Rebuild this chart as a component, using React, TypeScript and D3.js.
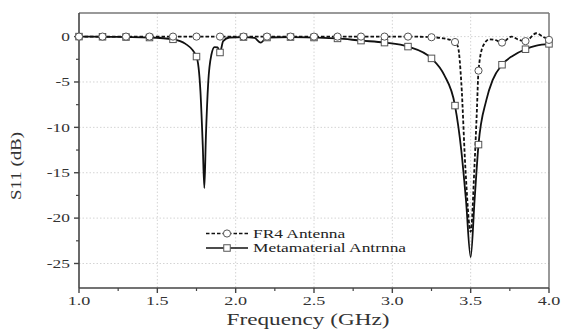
import React from "react";
import * as d3 from "d3";

const X_TICKS = [1.0, 1.5, 2.0, 2.5, 3.0, 3.5, 4.0];
const X_MINOR = [1.25, 1.75, 2.25, 2.75, 3.25, 3.75];
const Y_TICKS = [0, -5, -10, -15, -20, -25];
const Y_MINOR = [-2.5, -7.5, -12.5, -17.5, -22.5];
const MARKER_FREQS = [1.0, 1.15, 1.3, 1.45, 1.6, 1.75, 1.9, 2.05, 2.2, 2.35, 2.5, 2.65, 2.8, 2.95, 3.1, 3.25, 3.4, 3.55, 3.7, 3.85, 4.0];

const META: [number, number][] = [
  [1.0, 0], [1.15, -0.02], [1.3, -0.05], [1.45, -0.1], [1.6, -0.3], [1.68, -0.8], [1.75, -2.2],
  [1.775, -6], [1.79, -12], [1.8, -16.7], [1.81, -11], [1.825, -5], [1.845, -2], [1.865, -1.15],
  [1.885, -1.2], [1.9, -1.75], [1.92, -0.5], [1.96, -0.1], [2.05, -0.05], [2.12, -0.15], [2.16, -0.66],
  [2.2, -0.1], [2.35, -0.05], [2.5, -0.1], [2.65, -0.2], [2.8, -0.44], [2.95, -0.66], [3.1, -1.1],
  [3.25, -2.4], [3.33, -4.2], [3.4, -7.6], [3.44, -12.5], [3.47, -18], [3.5, -24.3], [3.525, -18],
  [3.55, -11.9], [3.6, -7], [3.64, -4.8], [3.7, -3.1], [3.77, -2.1], [3.85, -1.39], [3.92, -1.0], [4.0, -0.8],
];

const FR4: [number, number][] = [
  [1.0, 0], [1.15, 0], [1.3, 0], [1.45, 0], [1.6, 0], [1.75, 0], [1.9, 0], [2.05, 0], [2.2, 0], [2.35, 0],
  [2.5, 0], [2.65, 0], [2.8, 0], [2.95, 0], [3.1, 0], [3.25, -0.07], [3.33, -0.2], [3.4, -0.6], [3.42, -1.2],
  [3.44, -5], [3.467, -14.7], [3.5, -21.5], [3.525, -14], [3.54, -8], [3.55, -3.75], [3.58, -1.0],
  [3.62, -0.3], [3.66, -0.4], [3.7, -0.66], [3.76, 0], [3.8, -0.3], [3.85, -0.5], [3.92, 0.37], [3.96, 0], [4.0, -0.36],
];

const W = 563, H = 332;
const L = 79, R = 549, T = 13, B = 288;
const SX = 1.45;
const FONT = "'Liberation Serif', 'Times New Roman', serif";

export default function App() {
  const x = d3.scaleLinear().domain([1, 4]).range([L, R]);
  const y = d3.scaleLinear().domain([-27.7, 2.6]).range([B, T]);
  const line = d3.line<[number, number]>().x(d => x(d[0])).y(d => y(d[1])).curve(d3.curveMonotoneX);
  const isMarker = (f: number) => MARKER_FREQS.some(m => Math.abs(m - f) < 1e-6);
  const metaMarks = META.filter(d => isMarker(d[0]));
  const fr4Marks = FR4.filter(d => isMarker(d[0]));
  const axisCol = "#444";
  const mk = "#555";
  const sq = 6.5;

  return (
    <svg width={W} height={H} style={{ position: "absolute", left: 0, top: 0, background: "#fff" }} fontFamily={FONT}>
      <rect x={0} y={0} width={W} height={H} fill="#fff" />
      {/* grid */}
      {X_TICKS.filter(t => t > 1 && t < 4).map(t => (
        <line key={"gx" + t} x1={x(t)} x2={x(t)} y1={T} y2={B} stroke="#d4d4d4" strokeWidth={1} strokeDasharray="1.5,2" />
      ))}
      {Y_TICKS.map(t => (
        <line key={"gy" + t} x1={L} x2={R} y1={y(t)} y2={y(t)} stroke="#d4d4d4" strokeWidth={1} strokeDasharray="1.5,2" />
      ))}
      {/* frame */}
      <line x1={L} x2={R} y1={T} y2={T} stroke="#777" strokeWidth={1.5} />
      <line x1={R} x2={R} y1={T} y2={B} stroke="#777" strokeWidth={1.5} />
      <line x1={L} x2={L} y1={T} y2={B} stroke={axisCol} strokeWidth={1.6} />
      <line x1={L} x2={R} y1={B} y2={B} stroke={axisCol} strokeWidth={1.6} />
      {/* ticks */}
      {X_TICKS.map(t => (
        <line key={"xt" + t} x1={x(t)} x2={x(t)} y1={B} y2={B + 5} stroke={axisCol} strokeWidth={1.4} />
      ))}
      {X_MINOR.map(t => (
        <line key={"xm" + t} x1={x(t)} x2={x(t)} y1={B} y2={B + 3} stroke={axisCol} strokeWidth={1.2} />
      ))}
      {Y_TICKS.map(t => (
        <line key={"yt" + t} x1={L - 5} x2={L} y1={y(t)} y2={y(t)} stroke={axisCol} strokeWidth={1.4} />
      ))}
      {Y_MINOR.map(t => (
        <line key={"ym" + t} x1={L - 3} x2={L} y1={y(t)} y2={y(t)} stroke={axisCol} strokeWidth={1.2} />
      ))}
      {/* tick labels */}
      {X_TICKS.map(t => (
        <text key={"xl" + t} transform={`translate(${x(t)},305) scale(${SX},1)`} textAnchor="middle" fontSize={12.5} fill="#333">
          {t.toFixed(1)}
        </text>
      ))}
      {Y_TICKS.map(t => (
        <text key={"yl" + t} transform={`translate(70,${y(t) + 4.2}) scale(${SX},1)`} textAnchor="end" fontSize={12} fill="#333">
          {t}
        </text>
      ))}
      {/* axis titles */}
      <text transform={`translate(308,325) scale(${SX},1)`} textAnchor="middle" fontSize={16} fill="#333">
        Frequency (GHz)
      </text>
      <text transform={`translate(20.5,166) rotate(-90)`} textAnchor="middle" fontSize={14} fill="#333"
        textLength={68} lengthAdjust="spacingAndGlyphs">
        S11 (dB)
      </text>
      {/* curves */}
      <path d={line(META) || ""} fill="none" stroke="#111" strokeWidth={1.8} />
      <path d={line(FR4) || ""} fill="none" stroke="#111" strokeWidth={1.8} strokeDasharray="3.5,2" />
      {metaMarks.map(d => (
        <rect key={"ms" + d[0]} x={x(d[0]) - sq / 2} y={y(d[1]) - sq / 2} width={sq} height={sq} fill="#fff" stroke={mk} strokeWidth={1} />
      ))}
      {fr4Marks.map(d => (
        <circle key={"fc" + d[0]} cx={x(d[0])} cy={y(d[1])} r={3.6} fill="#fff" stroke={mk} strokeWidth={1} />
      ))}
      {/* legend */}
      <g>
        <line x1={206} x2={248} y1={233.5} y2={233.5} stroke="#111" strokeWidth={1.5} strokeDasharray="3.5,2" />
        <circle cx={227} cy={233.5} r={3.6} fill="#fff" stroke={mk} strokeWidth={1} />
        <text transform={`translate(253,237.5) scale(${SX},1)`} fontSize={12} fill="#222">FR4 Antenna</text>
        <line x1={206} x2={248} y1={248} y2={248} stroke="#111" strokeWidth={1.5} />
        <rect x={227 - sq / 2} y={248 - sq / 2} width={sq} height={sq} fill="#fff" stroke={mk} strokeWidth={1} />
        <text transform={`translate(253,252) scale(${SX},1)`} fontSize={12} fill="#222">Metamaterial Antrnna</text>
      </g>
    </svg>
  );
}
